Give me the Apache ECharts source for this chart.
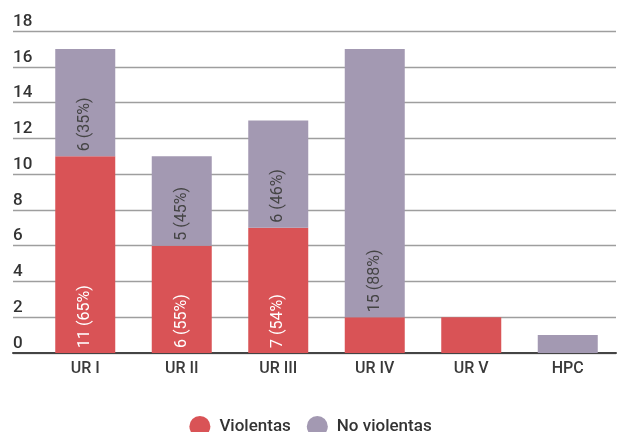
<!DOCTYPE html>
<html>
<head>
<meta charset="utf-8">
<script src="https://cdn.jsdelivr.net/npm/echarts@6/dist/echarts.min.js"></script>
<style>
  html, body { margin: 0; padding: 0; background: #fff; }
  #chart { width: 621px; height: 432px; }
</style>
</head>
<body>
<div id="chart"></div>
<script>
// datos
const categories = ['UR I', 'UR II', 'UR III', 'UR IV', 'UR V', 'HPC'];
const violentas = [11, 6, 7, 2, 2, 0];
const noViolentas = [6, 5, 6, 15, 0, 1];
const yTicks = [0, 2, 4, 6, 8, 10, 12, 14, 16, 18];

const RED = '#d95356';
const PURPLE = '#a399b2';
const FONT = 'Roboto';

function pctLabel(arr) {
  return function (p) {
    const i = p.dataIndex;
    const v = arr[i];
    const total = violentas[i] + noViolentas[i];
    if (v <= 2) return '';
    return v + ' (' + Math.round(v / total * 100) + '%)';
  };
}

const chart = echarts.init(document.getElementById('chart'));
const option = {
  animation: false,
  textStyle: { fontFamily: FONT },
  legend: {
    data: ['Violentas', 'No violentas'],
    top: 411,
    left: 'center',
    icon: 'circle',
    itemWidth: 21,
    itemHeight: 21,
    itemGap: 16,
    textStyle: { fontSize: 17, fontWeight: 500, color: '#333', fontFamily: FONT, padding: [0, 0, 0, 4] }
  },
  grid: [
    { left: 37, right: 5, top: 31, bottom: 79 },
    { left: 13, right: 5, top: 31, bottom: 79 }
  ],
  xAxis: [
    {
      type: 'category',
      gridIndex: 0,
      data: categories,
      axisLine: { show: false },
      axisTick: { show: false },
      axisLabel: { fontSize: 16, fontWeight: 500, color: '#3a3a3a', margin: 8, fontFamily: FONT }
    },
    {
      type: 'value',
      gridIndex: 1,
      min: 0,
      max: 1,
      axisLine: { show: true, onZero: false, lineStyle: { color: '#444', width: 2 } },
      axisTick: { show: false },
      axisLabel: { show: false },
      splitLine: { show: false }
    }
  ],
  yAxis: [
    {
      type: 'value',
      gridIndex: 0,
      min: 0,
      max: yTicks[yTicks.length - 1],
      interval: 2,
      show: false
    },
    {
      type: 'value',
      gridIndex: 1,
      min: 0,
      max: yTicks[yTicks.length - 1],
      interval: 2,
      axisLine: { show: false },
      axisTick: { show: false },
      axisLabel: {
        inside: true,
        margin: 0,
        align: 'left',
        verticalAlign: 'bottom',
        padding: [0, 0, 1, 0],
        fontSize: 17,
        fontWeight: 500,
        color: '#333',
        fontFamily: FONT
      },
      splitLine: { lineStyle: { color: '#9e9e9e', width: 1.3 } }
    }
  ],
  series: [
    {
      name: 'Violentas',
      type: 'bar',
      stack: 'total',
      xAxisIndex: 0,
      yAxisIndex: 0,
      barWidth: 60,
      itemStyle: { color: RED },
      data: violentas,
      z: 3,
      label: {
        show: true,
        position: 'insideBottom',
        rotate: 90,
        align: 'left',
        verticalAlign: 'middle',
        distance: 5,
        fontSize: 16,
        color: '#fff',
        fontFamily: FONT,
        formatter: pctLabel(violentas)
      }
    },
    {
      name: 'No violentas',
      type: 'bar',
      stack: 'total',
      xAxisIndex: 0,
      yAxisIndex: 0,
      barWidth: 60,
      itemStyle: { color: PURPLE },
      data: noViolentas,
      z: 3,
      label: {
        show: true,
        position: 'insideBottom',
        rotate: 90,
        align: 'left',
        verticalAlign: 'middle',
        distance: 5,
        fontSize: 16,
        color: '#444',
        fontFamily: FONT,
        formatter: pctLabel(noViolentas)
      }
    }
  ]
};
chart.setOption(option);
</script>
</body>
</html>
